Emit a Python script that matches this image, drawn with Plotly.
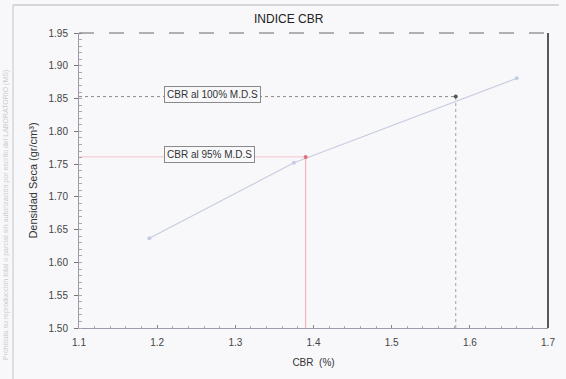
import plotly.graph_objects as go

# Curva de compactación CBR vs densidad seca
cbr = [1.19, 1.375, 1.66]
densidad = [1.637, 1.752, 1.881]

# Valores de CBR al 95% y 100% de la M.D.S
cbr_95, mds_95 = 1.39, 1.761
cbr_100, mds_100 = 1.582, 1.853

x_ticks = [1.1, 1.2, 1.3, 1.4, 1.5, 1.6, 1.7]
y_ticks = [1.50, 1.55, 1.60, 1.65, 1.70, 1.75, 1.80, 1.85, 1.90, 1.95]

x_min, x_max = 1.1, 1.7
y_min, y_max = 1.50, 1.95

narrow = "Liberation Sans Narrow, Arial Narrow, Liberation Sans, Arial"
bg = "#f8f8fa"

fig = go.Figure()

# líneas de referencia 100%
fig.add_trace(go.Scatter(x=[x_min, cbr_100], y=[mds_100, mds_100], mode="lines",
                         line=dict(color="#8a8a8a", width=1, dash="dot"),
                         hoverinfo="skip", showlegend=False))
fig.add_trace(go.Scatter(x=[cbr_100, cbr_100], y=[y_min, mds_100], mode="lines",
                         line=dict(color="#a0a0a0", width=1, dash="dot"),
                         hoverinfo="skip", showlegend=False))
# líneas de referencia 95%
fig.add_trace(go.Scatter(x=[x_min, cbr_95], y=[mds_95, mds_95], mode="lines",
                         line=dict(color="#f2c4ca", width=1),
                         hoverinfo="skip", showlegend=False))
fig.add_trace(go.Scatter(x=[cbr_95, cbr_95], y=[y_min, mds_95], mode="lines",
                         line=dict(color="#f0a8b2", width=1),
                         hoverinfo="skip", showlegend=False))

# curva
fig.add_trace(go.Scatter(x=cbr, y=densidad, mode="lines+markers",
                         line=dict(color="#c8cce0", width=1.2),
                         marker=dict(size=4, color="#c4cce8"),
                         showlegend=False))

# puntos de CBR
fig.add_trace(go.Scatter(x=[cbr_95], y=[mds_95], mode="markers",
                         marker=dict(size=4, color="#e07080"), showlegend=False))
fig.add_trace(go.Scatter(x=[cbr_100], y=[mds_100], mode="markers",
                         marker=dict(size=4, color="#555555"), showlegend=False))

# etiquetas
fig.add_annotation(x=1.271, y=1.856, xref="x", yref="y", text="CBR al 100% M.D.S",
                   showarrow=False, font=dict(family=narrow, size=10, color="#333"),
                   bgcolor=bg, bordercolor="#8a8a8a", borderwidth=1, borderpad=2)
fig.add_annotation(x=1.267, y=1.764, xref="x", yref="y", text="CBR al 95% M.D.S",
                   showarrow=False, font=dict(family=narrow, size=10, color="#333"),
                   bgcolor=bg, bordercolor="#8a8a8a", borderwidth=1, borderpad=2)

# título
fig.add_annotation(x=(292 - 79) / 476, y=(328 - 19) / 295, xref="paper", yref="paper",
                   xanchor="center", yanchor="middle",
                   text="INDICE CBR", showarrow=False,
                   font=dict(family=narrow, size=12, color="#222"))

# nota lateral del documento
fig.add_annotation(x=(5 - 79) / 476, y=(328 - 215) / 295, xref="paper", yref="paper",
                   xanchor="center", yanchor="middle",
                   text="Prohibida su reproducción total o parcial sin autorización por escrito del LABORATORIO (MS)",
                   textangle=-90, showarrow=False,
                   font=dict(family=narrow, size=7, color="#cacace"))

# marco del documento
px0 = (12 - 79) / 476
py_top = (328 - 5) / 295
fig.add_shape(type="line", xref="paper", yref="paper", x0=px0, x1=(566 - 79) / 476,
              y0=py_top, y1=py_top, line=dict(color="#b4b4b8", width=1))
fig.add_shape(type="line", xref="paper", yref="paper", x0=px0, x1=px0,
              y0=py_top, y1=(328 - 379) / 295, line=dict(color="#c4c4c8", width=1))

# bordes superior y derecho del área del gráfico
fig.add_shape(type="line", xref="paper", yref="paper", x0=0, x1=1, y0=1, y1=1,
              line=dict(color="#666", width=1, dash="longdash"))
fig.add_shape(type="line", xref="paper", yref="paper", x0=1, x1=1, y0=0, y1=1,
              line=dict(color="#222", width=1.5))

fig.update_layout(
    width=566, height=379,
    margin=dict(l=79, r=11, t=33, b=51),
    paper_bgcolor=bg, plot_bgcolor=bg,
    font=dict(family=narrow, size=10, color="#444"),
)
fig.update_xaxes(range=[x_min, x_max], tickvals=x_ticks,
                 ticktext=[f"{v:.1f}" for v in x_ticks],
                 showgrid=False, zeroline=False, showline=True, linecolor="#9a9aa8",
                 linewidth=1, ticks="inside", ticklen=3, tickcolor="#888",
                 ticklabelstandoff=5,
                 minor=dict(ticks="inside", ticklen=2, dtick=0.02, tickcolor="#aaa"),
                 title=dict(text="CBR  (%)", standoff=11, font=dict(size=10, color="#333")),
                 tickfont=dict(size=10, color="#444"))
fig.update_yaxes(range=[y_min, y_max], tickvals=y_ticks,
                 ticktext=[f"{v:.2f}" for v in y_ticks],
                 showgrid=False, zeroline=False, showline=True, linecolor="#9a9aa8",
                 linewidth=1, ticks="outside", ticklen=4, tickcolor="#777",
                 ticklabelstandoff=4,
                 minor=dict(ticks="inside", ticklen=3, dtick=0.01, tickcolor="#aaa"),
                 title=dict(text="Densidad Seca (gr/cm³)", standoff=8,
                            font=dict(size=11, color="#333")),
                 tickfont=dict(size=10, color="#444"))

fig.write_html("out.html")
